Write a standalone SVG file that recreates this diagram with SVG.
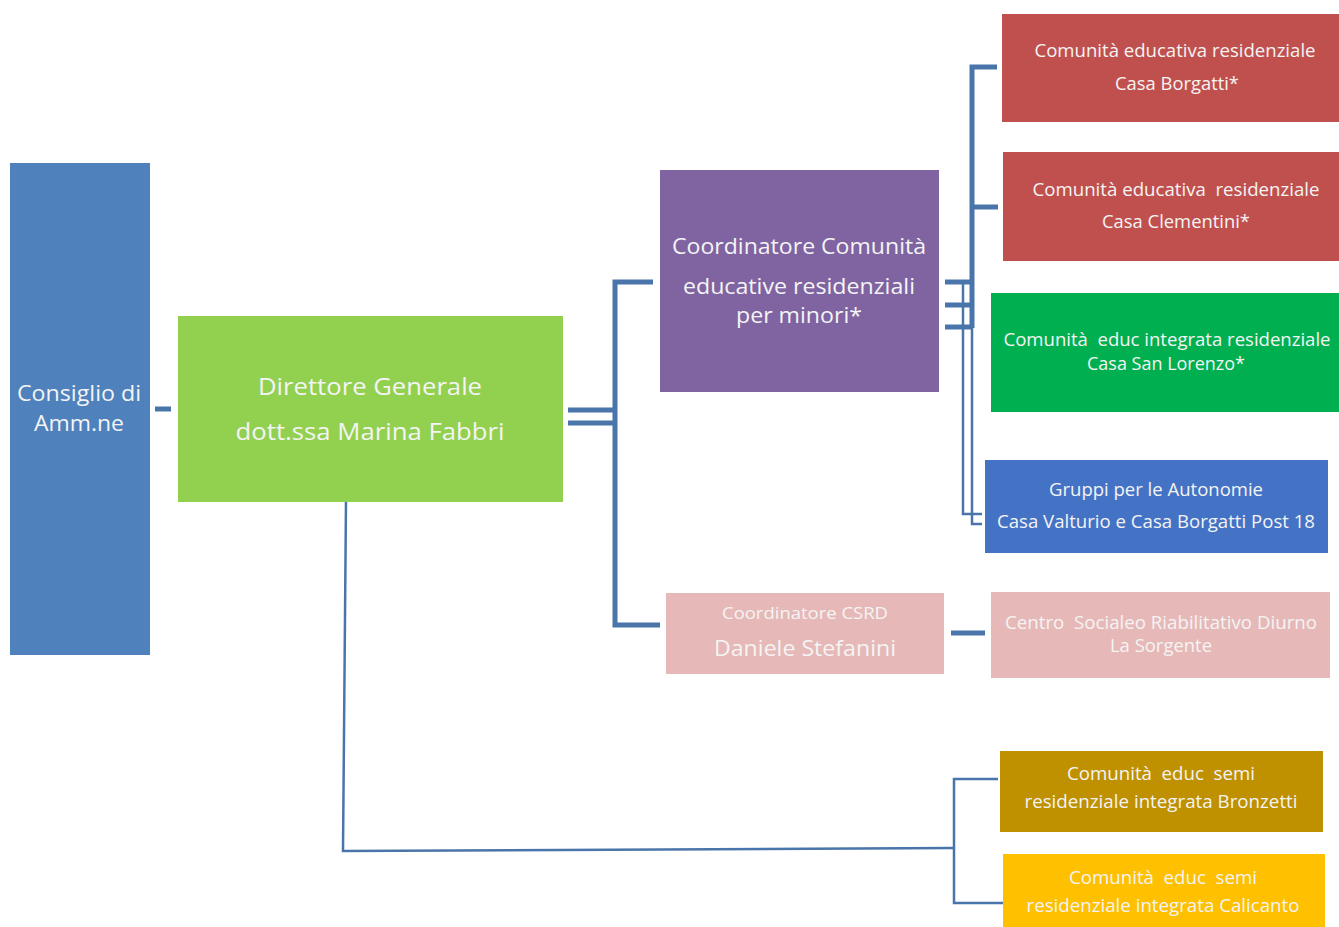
<svg xmlns="http://www.w3.org/2000/svg" width="1339" height="927" viewBox="0 0 1339 927">
<style>
text{font-family:"Open Sans","Noto Sans","Liberation Sans",sans-serif;fill:#F4F4F4;text-anchor:middle}
.thick{stroke:#4A75AA;stroke-width:5;fill:none}
.thin{stroke:#4A75AA;stroke-width:2.5;fill:none}
</style>
<rect width="1339" height="927" fill="#FFFFFF"/>
<g id="connectors">
<line class="thick" x1="155" y1="409" x2="171" y2="409"/>
<line class="thick" x1="568" y1="410" x2="615" y2="410"/>
<line class="thick" x1="568" y1="423" x2="615" y2="423"/>
<polyline class="thick" points="653,282 615,282 615,625 660,625"/>
<polyline class="thick" points="997,67 972,67 972,328"/>
<line class="thick" x1="972" y1="207" x2="998" y2="207"/>
<line class="thick" x1="945" y1="282" x2="972" y2="282"/>
<line class="thick" x1="945" y1="305" x2="972" y2="305"/>
<line class="thick" x1="945" y1="327" x2="972" y2="327"/>
<polyline class="thin" points="963,282 963,514 982,514"/>
<polyline class="thin" points="972,327 972,524 982,524"/>
<line class="thick" x1="951" y1="633" x2="985" y2="633"/>
<polyline class="thin" points="346,500 343,851 954,848"/>
<polyline class="thin" points="998,779 954,779 954,903 1003,903"/>
</g>
<g id="consiglio">
<rect x="10" y="163" width="140" height="492" fill="#4F81BD"/>
<text x="79" y="401" font-size="21" textLength="124" lengthAdjust="spacingAndGlyphs">Consiglio di</text>
<text x="79" y="431" font-size="21" textLength="90" lengthAdjust="spacingAndGlyphs">Amm.ne</text>
</g>
<g id="direttore">
<rect x="178" y="316" width="385" height="186" fill="#92D050"/>
<text x="370" y="395" font-size="24" textLength="224" lengthAdjust="spacingAndGlyphs">Direttore Generale</text>
<text x="370" y="440" font-size="24" textLength="269" lengthAdjust="spacingAndGlyphs">dott.ssa Marina Fabbri</text>
</g>
<g id="coordinatore-comunita">
<rect x="660" y="170" width="279" height="222" fill="#8064A2"/>
<text x="799" y="254" font-size="22" textLength="254" lengthAdjust="spacingAndGlyphs">Coordinatore Comunità</text>
<text x="799" y="294" font-size="22" textLength="232" lengthAdjust="spacingAndGlyphs">educative residenziali</text>
<text x="799" y="323" font-size="22" textLength="126" lengthAdjust="spacingAndGlyphs">per minori*</text>
</g>
<g id="casa-borgatti">
<rect x="1002" y="14" width="337" height="108" fill="#C0504D"/>
<text x="1175" y="57" font-size="18" textLength="281" lengthAdjust="spacingAndGlyphs">Comunità educativa residenziale</text>
<text x="1177" y="90" font-size="18" textLength="124" lengthAdjust="spacingAndGlyphs">Casa Borgatti*</text>
</g>
<g id="casa-clementini">
<rect x="1003" y="152" width="336" height="109" fill="#C0504D"/>
<text x="1176" y="196" font-size="18" textLength="287" lengthAdjust="spacingAndGlyphs" xml:space="preserve">Comunità educativa  residenziale</text>
<text x="1176" y="228" font-size="18" textLength="148" lengthAdjust="spacingAndGlyphs">Casa Clementini*</text>
</g>
<g id="casa-san-lorenzo">
<rect x="991" y="293" width="348" height="119" fill="#00B050"/>
<text x="1167" y="346" font-size="18" textLength="327" lengthAdjust="spacingAndGlyphs" xml:space="preserve">Comunità  educ integrata residenziale</text>
<text x="1166" y="370" font-size="18" textLength="158" lengthAdjust="spacingAndGlyphs">Casa San Lorenzo*</text>
</g>
<g id="gruppi-autonomie">
<rect x="985" y="460" width="343" height="93" fill="#4472C4"/>
<text x="1156" y="496" font-size="18" textLength="214" lengthAdjust="spacingAndGlyphs">Gruppi per le Autonomie</text>
<text x="1156" y="528" font-size="18" textLength="318" lengthAdjust="spacingAndGlyphs">Casa Valturio e Casa Borgatti Post 18</text>
</g>
<g id="coordinatore-csrd">
<rect x="666" y="593" width="278" height="81" fill="#E6B9B8"/>
<text x="805" y="619" font-size="17" textLength="166" lengthAdjust="spacingAndGlyphs">Coordinatore CSRD</text>
<text x="805" y="656" font-size="22" textLength="182" lengthAdjust="spacingAndGlyphs">Daniele Stefanini</text>
</g>
<g id="centro-sorgente">
<rect x="991" y="592" width="339" height="86" fill="#E6B9B8"/>
<text x="1161" y="629" font-size="18" textLength="312" lengthAdjust="spacingAndGlyphs" xml:space="preserve">Centro  Socialeo Riabilitativo Diurno</text>
<text x="1161" y="652" font-size="18" textLength="102" lengthAdjust="spacingAndGlyphs">La Sorgente</text>
</g>
<g id="bronzetti">
<rect x="1000" y="751" width="323" height="81" fill="#BF9000"/>
<text x="1161" y="780" font-size="18" textLength="188" lengthAdjust="spacingAndGlyphs" xml:space="preserve">Comunità  educ  semi</text>
<text x="1161" y="808" font-size="18" textLength="273" lengthAdjust="spacingAndGlyphs">residenziale integrata Bronzetti</text>
</g>
<g id="calicanto">
<rect x="1003" y="854" width="322" height="73" fill="#FFC000"/>
<text x="1163" y="884" font-size="18" textLength="188" lengthAdjust="spacingAndGlyphs" xml:space="preserve">Comunità  educ  semi</text>
<text x="1163" y="912" font-size="18" textLength="273" lengthAdjust="spacingAndGlyphs">residenziale integrata Calicanto</text>
</g>
</svg>
